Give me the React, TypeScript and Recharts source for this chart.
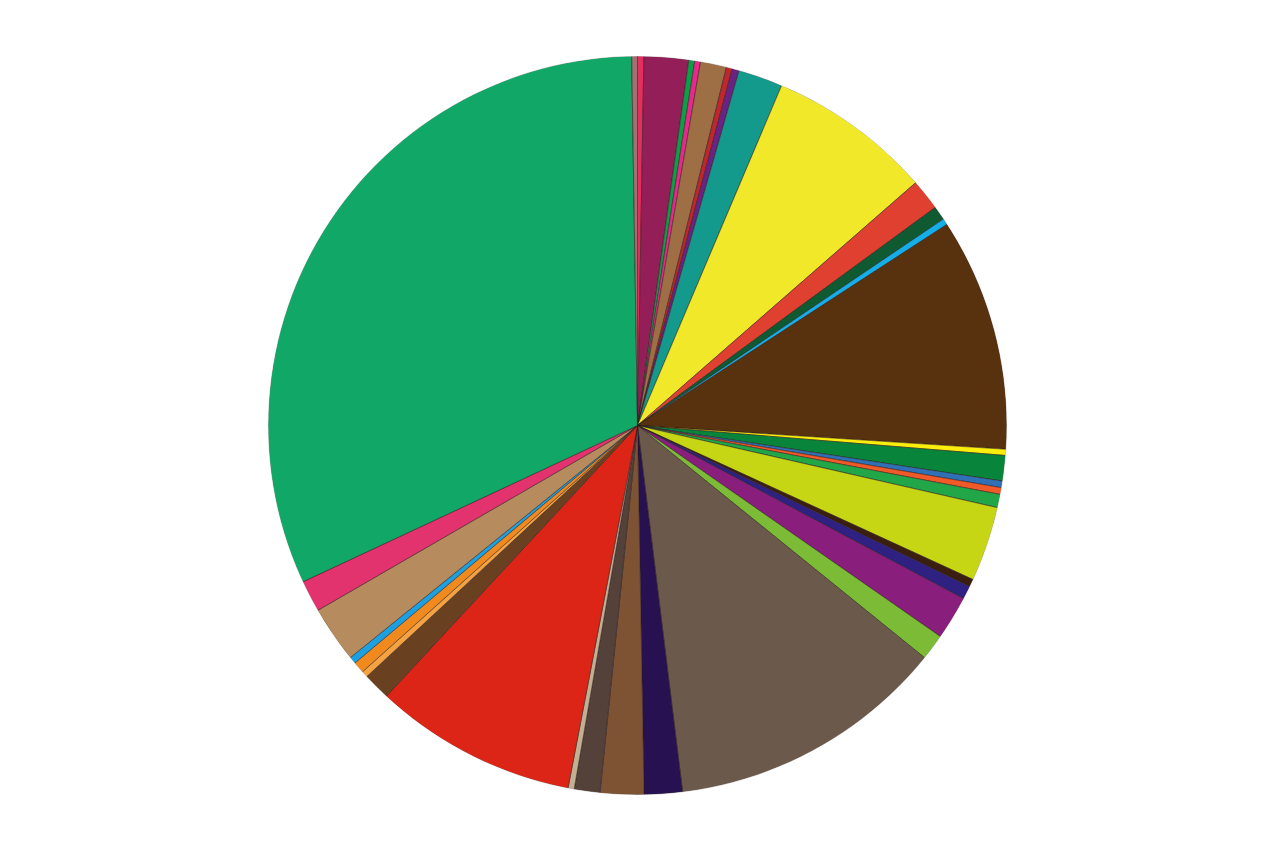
import { PieChart, Pie, Cell } from 'recharts';

const labels = [
    'S1', 'S2', 'S3', 'S4', 'S5', 'S6', 'S7', 'S8', 'S9', 'S10',
    'S11', 'S12', 'S13', 'S14', 'S15', 'S16', 'S17', 'S18', 'S19', 'S20',
    'S21', 'S22', 'S23', 'S24', 'S25', 'S26', 'S27', 'S28', 'S29', 'S30',
    'S31', 'S32', 'S33', 'S34', 'S35', 'S36', 'S37',
];

// slice sizes (degrees of arc, clockwise from 12 o'clock)
const values = [
    1.0, 7.0, 0.93, 0.91, 4.1, 0.93, 1.1, 7.0, 25.9, 4.9,
    2.2, 1.0, 36.7, 0.96, 4.0, 1.04, 1.06, 2.1, 11.8, 1.2,
    2.1, 6.9, 4.1, 44.0, 6.0, 6.85, 4.05, 0.96, 32.0, 4.3,
    1.0, 1.8, 1.1, 8.9, 5.0, 114.1, 0.9,
];

const colors = [
    '#e2305e', '#941f58', '#0d9e48', '#e8298c', '#9e6e44', '#c0272d', '#6a2283', '#139a8c', '#f0e828', '#e04030',
    '#0f5a30', '#14aee8', '#58310e', '#fcee0c', '#08853a', '#2f70b6', '#f05a28', '#22a748', '#c6d514', '#3a1f10',
    '#2e2182', '#891e7c', '#7bbb35', '#6b5a4b', '#281150', '#7e5334', '#53413a', '#c3b092', '#dd2517', '#6a4120',
    '#f5a342', '#f08a1e', '#1ba1e2', '#b68b5d', '#e2336f', '#11a766', '#a07272',
];

const data = labels.map((name, i) => ({ name, value: values[i] }));
// white ring that hides the dark outline on the rim, the slice separators stay
const rim = [{ name: 'rim', value: 1 }];

export default function App() {
    return (
        <div style={{ position: 'absolute', left: 0, top: 0, width: 1276, height: 851, background: '#fff' }}>
            <PieChart width={1276} height={851} margin={{ top: 0, right: 0, bottom: 0, left: 0 }}>
                <Pie
                    data={data}
                    dataKey="value"
                    nameKey="name"
                    cx={637.5}
                    cy={425.5}
                    outerRadius={369.5}
                    startAngle={90}
                    endAngle={-270}
                    stroke="#2a1a1a"
                    strokeWidth={0.5}
                    isAnimationActive={false}
                >
                    {data.map((d, i) => (
                        <Cell key={d.name} fill={colors[i]} />
                    ))}
                </Pie>
                <Pie
                    data={rim}
                    dataKey="value"
                    cx={637.5}
                    cy={425.5}
                    innerRadius={369.5}
                    outerRadius={372}
                    startAngle={90}
                    endAngle={-270}
                    fill="#fff"
                    stroke="#fff"
                    strokeWidth={0.6}
                    isAnimationActive={false}
                />
            </PieChart>
        </div>
    );
}
